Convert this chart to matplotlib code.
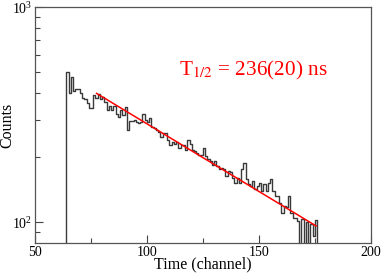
import numpy as np
import matplotlib
matplotlib.use('Agg')
import matplotlib.pyplot as plt
from matplotlib.ticker import MultipleLocator, FixedLocator, LogFormatterMathtext, NullFormatter

plt.rcParams['font.family'] = ['Liberation Serif', 'DejaVu Serif']
plt.rcParams['mathtext.fontset'] = 'stix'

# histogram (one bin per channel, left edge given)
first_channel = 63
counts = [0, 500, 397, 474, 408, 414, 414, 397, 379, 375,
          357, 338, 338, 390, 376, 394, 372, 383, 363, 332,
          347, 332, 347, 320, 309, 332, 315, 342, 268, 296,
          296, 298, 292, 288, 293, 320, 298, 293, 304, 277,
          273, 268, 263, 250, 259, 259, 241, 228, 236, 232,
          236, 220, 228, 228, 216, 241, 232, 216, 214, 209,
          205, 206, 222, 203, 197, 192, 185, 192, 182, 176,
          179, 176, 164, 173, 171, 161, 152, 161, 152, 176,
          189, 158, 150, 147, 155, 142, 147, 152, 139, 150,
          139, 152, 158, 139, 132, 132, 123, 110, 119, 117,
          132, 110, 105, 105, 101, 0, 103, 0, 100, 0,
          98, 86, 102, 0]

# exponential fit (straight on log axis), end points
fit_x = [77.5, 175.5]
fit_y = [397, 96]

label = r'T$_{1/2}$ = 236(20) ns'

channels = first_channel + np.arange(len(counts))

fig = plt.figure(figsize=(3.82, 2.73), dpi=100)
ax = fig.add_axes([0.0916, 0.110, 0.8794, 0.864])

ax.step(channels, counts, where='post', color='#3a3a3a', lw=1.0)
ax.plot(fit_x, fit_y, color='red', lw=1.1)

ax.set_yscale('log')
ax.set_xlim(50, 200)
ax.set_ylim(80, 1000)

ax.xaxis.set_major_locator(MultipleLocator(50))
ax.xaxis.set_minor_locator(MultipleLocator(25))
ax.yaxis.set_major_locator(FixedLocator([100, 1000]))
ax.yaxis.set_major_formatter(LogFormatterMathtext())
ax.yaxis.set_minor_locator(FixedLocator([90] + list(range(200, 1000, 100))))
ax.yaxis.set_minor_formatter(NullFormatter())

ax.tick_params(which='both', direction='in', top=False, right=False,
               color='#444444', width=0.8, labelsize=10, pad=2)
ax.tick_params(which='major', length=6)
ax.tick_params(which='minor', length=3.5)
for s in ax.spines.values():
    s.set_color('#555555')
    s.set_linewidth(0.9)

ax.set_xlabel('Time (channel)', fontsize=11.5)
ax.set_ylabel('Counts', fontsize=11.5)
ax.xaxis.set_label_coords(0.50, -0.058)
ax.yaxis.set_label_coords(-0.058, 0.50)

ax.text(0.65, 0.733, label, color='red', fontsize=15.3,
        transform=ax.transAxes, ha='center', va='center')

fig.savefig('out.png', dpi=100)
